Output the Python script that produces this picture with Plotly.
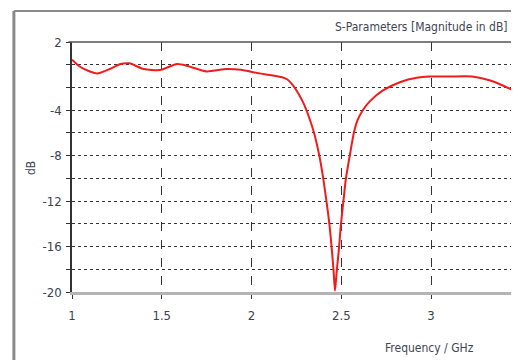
import plotly.graph_objects as go

# Data (S11 magnitude in dB vs frequency in GHz)
freq_ghz = [1.00, 1.045, 1.10, 1.14, 1.21, 1.27, 1.32, 1.40, 1.49, 1.585, 1.64, 1.75,
            1.86, 1.94, 2.03, 2.08, 2.12, 2.17, 2.20, 2.23, 2.26, 2.29, 2.32, 2.35,
            2.38, 2.40, 2.42, 2.435, 2.447, 2.457, 2.465, 2.475, 2.487, 2.497, 2.51,
            2.525, 2.545, 2.57, 2.59, 2.62, 2.66, 2.73, 2.83, 2.92, 2.99, 3.10, 3.23,
            3.33, 3.40, 3.46, 3.50]
s11_db = [0.45, -0.18, -0.6, -0.77, -0.38, 0.06, 0.12, -0.38, -0.47, 0.06, -0.09, -0.59,
          -0.38, -0.45, -0.72, -0.85, -0.95, -1.1, -1.3, -1.8, -2.5, -3.4, -4.6, -6.1,
          -8.19, -10.07, -12.3, -14.2, -16.2, -18.1, -19.9, -18.1, -16.2, -14.2, -12.3,
          -10.1, -8.2, -6.0, -4.9, -4.0, -3.2, -2.28, -1.52, -1.15, -1.04, -1.04, -1.04,
          -1.39, -1.83, -2.28, -2.75]

y_tickvals = [2, 0, -2, -4, -6, -8, -10, -12, -14, -16, -18, -20]
y_ticktext = ["2", "", "", "-4", "", "-8", "", "-12", "", "-16", "", "-20"]
x_tickvals = [1, 1.5, 2, 2.5, 3]
x_ticktext = ["1", "1.5", "2", "2.5", "3"]

FONT = "DejaVu Sans Condensed, Liberation Sans Narrow, Liberation Sans, sans-serif"
LBL = "#3a4250"

fig = go.Figure()
fig.add_trace(go.Scatter(x=freq_ghz, y=s11_db, mode="lines",
                         line=dict(color="#f01c1c", width=2, shape="spline", smoothing=0.6),
                         hoverinfo="skip", showlegend=False))

fig.update_layout(
    width=511, height=352,
    margin=dict(l=64, r=0, t=34, b=68),
    paper_bgcolor="white", plot_bgcolor="white",
    font=dict(family=FONT, size=13, color=LBL),
    xaxis=dict(range=[1, 3.49], tickvals=x_tickvals, ticktext=x_ticktext,
               showgrid=True, gridcolor="#333333", griddash="dash", gridwidth=1,
               zeroline=False, showline=True, linecolor="#b4b4b4", linewidth=3,
               ticks="outside", ticklen=4, tickcolor="#333333", ticklabelstandoff=5,
               tickfont=dict(family=FONT, size=13, color=LBL)),
    yaxis=dict(range=[-20, 2], tickvals=y_tickvals, ticktext=y_ticktext,
               showgrid=True, gridcolor="#333333", griddash="dot", gridwidth=1,
               zeroline=False, showline=True, linecolor="#333333", linewidth=1.5,
               ticks="outside", ticklen=4, tickcolor="#333333", ticklabelstandoff=2,
               tickfont=dict(family=FONT, size=13, color=LBL)),
    shapes=[
        # outer frame
        dict(type="line", xref="paper", yref="paper", x0=-0.13, x1=1.02, y0=1.124, y1=1.124,
             line=dict(color="#8a8a8a", width=2)),
        dict(type="line", xref="paper", yref="paper", x0=-0.13, x1=-0.13, y0=-0.3, y1=1.124,
             line=dict(color="#8a8a8a", width=3)),
        # top border of plot area
        dict(type="line", xref="paper", yref="paper", x0=-0.008, x1=1.02, y0=1, y1=1,
             line=dict(color="#555555", width=1.5)),
    ],
    annotations=[
        dict(text="S-Parameters [Magnitude in dB]", xref="paper", yref="paper",
             x=(502 - 64) / 447, y=1.06, xanchor="right", yanchor="middle",
             showarrow=False, font=dict(family=FONT, size=12, color="#404652")),
        dict(text="Frequency / GHz", xref="paper", yref="paper",
             x=(421 - 64) / 447, y=-0.224, xanchor="center", yanchor="middle",
             showarrow=False, font=dict(family=FONT, size=12, color="#404652")),
        dict(text="dB", xref="paper", yref="paper", textangle=-90,
             x=(23 - 64) / 447, y=(284 - 160) / 250, xanchor="center", yanchor="middle",
             showarrow=False, font=dict(family=FONT, size=12, color="#404652")),
        dict(text="3.5", xref="paper", yref="paper",
             x=(512.75 - 64) / 447, y=-0.104, xanchor="center", yanchor="middle",
             showarrow=False, font=dict(family=FONT, size=13, color=LBL)),
    ],
)

fig.write_html("out.html")
